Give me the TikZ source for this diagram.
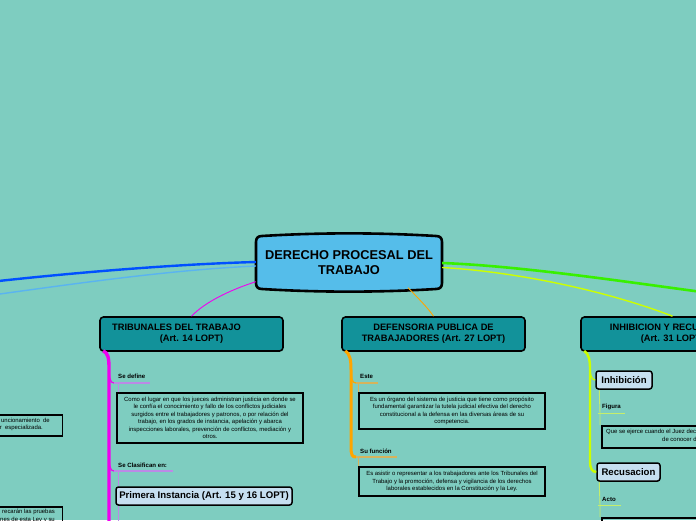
\documentclass[tikz,border=0pt]{standalone}
\usepackage{fontspec}
\setmainfont{Liberation Sans}
\usetikzlibrary{calc}
\definecolor{bgc}{HTML}{7ECDC0}
\definecolor{rootblue}{HTML}{55BDEA}
\definecolor{boxteal}{HTML}{12929A}
\definecolor{subblue}{HTML}{C6DFF0}
\definecolor{cmag}{HTML}{F000F0}
\definecolor{clav}{HTML}{BC8AE6}
\definecolor{corange}{HTML}{FFA500}
\definecolor{ctan}{HTML}{D6B35C}
\definecolor{clime}{HTML}{CCFF00}
\definecolor{climel}{HTML}{C6EE6A}
\definecolor{cgreen}{HTML}{38F000}
\definecolor{cblue}{HTML}{0050FF}
\definecolor{clblue}{HTML}{5AB4F0}
\begin{document}
\begin{tikzpicture}[x=1pt,y=-1pt,
  mainbox/.style={draw=black, line width=1.6pt, fill=boxteal, rounded corners=3.5pt,
    minimum width=183pt, minimum height=34pt, inner sep=0pt, align=center,
    font=\bfseries\fontsize{9.3}{11}\selectfont},
  textbox/.style={draw=black, line width=1.5pt, inner sep=0pt, align=center,
    font=\fontsize{5.95}{7.5}\selectfont},
  subbox/.style={draw=black, line width=1.5pt, fill=subblue, rounded corners=2.5pt,
    inner sep=0pt, font=\bfseries\fontsize{9.6}{11}\selectfont},
  lbl/.style={anchor=west, inner sep=0pt, font=\bfseries\fontsize{6.1}{7}\selectfont},
  frag/.style={inner sep=0pt, font=\fontsize{5.95}{7.5}\selectfont}
]
\useasboundingbox (0,0) rectangle (696,520);
\fill[bgc] (0,0) rectangle (696,520);
\clip (0,0) rectangle (696,520);

% ---------- root
\draw[line width=2.6pt, fill=rootblue]
  (256,242) -- (256,283) .. controls (256,287) and (258,289) .. (262,289)
  .. controls (320,292.5) and (378,292.5) .. (436,289)
  .. controls (440,289) and (442,287) .. (442,283) -- (442,242)
  .. controls (442,238) and (440,236) .. (436,236)
  .. controls (378,232.5) and (320,232.5) .. (262,236)
  .. controls (258,236) and (256,238) .. (256,242) -- cycle;
\node[align=center, inner sep=0pt, minimum width=186pt, minimum height=53pt,
  font=\bfseries\fontsize{12.8}{14.5}\selectfont] (root) at (349,262.5)
  {DERECHO PROCESAL DEL\\TRABAJO};

% ---------- main boxes
\node[mainbox] (trib) at (191.5,334) {TRIBUNALES DEL TRABAJO\hspace*{30pt}\\(Art. 14 LOPT)};
\node[mainbox] (def) at (433.5,334) {DEFENSORIA PUBLICA DE\\TRABAJADORES (Art. 27 LOPT)};
\node[mainbox] (inh) at (672.5,334) {INHIBICION Y RECUSACION\\(Art. 31 LOPT)};

% ---------- free ends
\coordinate (gE) at (702,292);
\coordinate (bE) at (-6,281.5);
\coordinate (lbE) at (-6,294.8);

% ---------- root connectors
\draw[cblue, line width=2.4pt] ($(root.west)+(0,-0.5)$) .. controls (180,264) and (80,272) .. (bE);
\draw[clblue, line width=1.4pt] ($(root.west)+(0,3.5)$) .. controls (170,270) and (80,283) .. (lbE);
\draw[cgreen, line width=2.6pt] ($(root.east)+(0,0.5)$) .. controls (520,266) and (620,281) .. (gE);
\draw[clime, line width=1.4pt] ($(root.east)+(0,5)$) .. controls (520,272) and (610,292) .. (inh.north);
\draw[cmag, line width=0.9pt] ($(root.south west)+(0,-7.5)$) .. controls (230,290) and (205,302) .. (trib.north);
\draw[corange, line width=0.9pt] ($(root.south)+(59,-1.5)$) .. controls (418,298) and (428,308) .. (def.north);

% ---------- TRIBUNALES branch
\coordinate (mEnd) at (109,526);
\draw[cmag, line width=3.4pt] ($(trib.south west)+(4,-1)$) .. controls (108,353) and (109,358) .. (109,368) -- (mEnd);
\coordinate (u1) at (114,383);
\coordinate (u2) at (114,471);
\draw[cmag, line width=1.2pt] (109,364) .. controls (109,378) and (110,383) .. (u1);
\draw[cmag, line width=1.2pt] (109,452) .. controls (109,466) and (110,471) .. (u2);
\draw[clav, line width=1.1pt] (u1) -- ++(36,0);
\draw[clav, line width=1.1pt] (u2) -- ++(59,0);
\node[lbl] (l1) at (118,376) {Se define};
\node[lbl] (l2) at (118,465) {Se Clasifican en:};

\node[textbox, minimum width=186pt, minimum height=50pt] (tb1) at (210,418)
  {Como el lugar en que los jueces administran justicia en donde se\\
   le confía el conocimiento y fallo de los conflictos judiciales\\
   surgidos entre el trabajadores y patronos, o por relación del\\
   trabajo, en los grados de instancia, apelación y abarca\\
   inspecciones laborales, prevención de conflictos, mediación y\\
   otros.};
\node[subbox, minimum width=176pt, minimum height=18pt] (prim) at (204,496)
  {Primera Instancia (Art. 15 y 16 LOPT)};
\coordinate (d1) at (118,383);
\coordinate (d2) at (118,471);
\coordinate (d3) at (118,526);
\draw[clav, line width=0.9pt] (d1) -- (d1 |- tb1.north);
\draw[clav, line width=0.9pt] (d2) -- (d2 |- prim.north);
\draw[clav, line width=0.9pt] (d2 |- prim.south) -- (d3);

% ---------- DEFENSORIA branch
\coordinate (o1) at (356,383);
\coordinate (o2) at (356,457);
\draw[corange, line width=3pt] ($(def.south west)+(4,-1)$) .. controls (350,354) and (351,360) .. (351,370) -- (351,446)
  .. controls (351,455) and (352,457) .. (o2);
\draw[corange, line width=1.2pt] (351,366) .. controls (351,379) and (352,383) .. (o1);
\draw[ctan, line width=1.1pt] (o1) -- ++(22,0);
\draw[ctan, line width=1.1pt] (o2) -- ++(41,0);
\node[lbl] (l3) at (360,376) {Este};
\node[lbl] (l4) at (360,451) {Su función};
\node[textbox, minimum width=186pt, minimum height=36pt] (tb2) at (452,411)
  {Es un órgano del sistema de justicia que tiene como propósito\\
   fundamental garantizar la tutela judicial efectiva del derecho\\
   constitucional a la defensa en las diversas áreas de su\\
   competencia.};
\node[textbox, minimum width=186pt, minimum height=29pt] (tb3) at (452,481.5)
  {Es asistir o representar a los trabajadores ante los Tribunales del\\
   Trabajo y la promoción, defensa y vigilancia de los derechos\\
   laborales establecidos en la Constitución y la Ley.};
\coordinate (e1) at (358,383);
\coordinate (e2) at (358,457);
\draw[ctan, line width=0.8pt] (e1) -- (e1 |- tb2.north);
\draw[ctan, line width=0.8pt] (e2) -- (e2 |- tb3.north);

% ---------- INHIBICION branch
\node[subbox, minimum width=56pt, minimum height=18pt] (inhi) at (624,380) {Inhibición};
\node[subbox, minimum width=63pt, minimum height=18pt] (recu) at (628.5,472) {Recusacion};
\draw[clime, line width=2.4pt] ($(inh.south west)+(4,-1)$) .. controls (589,354) and (590,360) .. (590,370) -- (590,462)
  .. controls (590,468) and (592,472) .. (recu.west);
\draw[clime, line width=1.2pt] (590,366) .. controls (590,376) and (592,380) .. (inhi.west);
\node[lbl] (l5) at (602,407) {Figura};
\node[lbl] (l6) at (602,499) {Acto};
\coordinate (f1) at (598,413.5);
\coordinate (f2) at (598,505.5);
\draw[climel, line width=1.1pt] (f1) -- ++(27,0);
\draw[climel, line width=1.1pt] (f2) -- ++(23,0);
\node[textbox, minimum width=186pt, minimum height=22pt, anchor=north west] (tb4) at (601,425) {};
\node[frag, anchor=west] (tf1) at (606,432) {Que se ejerce cuando el Juez dec};
\node[frag, anchor=west] (tf2) at (662,439.5) {de conocer d};
\node[textbox, minimum width=186pt, minimum height=30pt, anchor=north west] (tb5) at (601,517) {};
\coordinate (g1) at (600,413.5);
\coordinate (g2) at (600,505.5);
\draw[climel, line width=0.9pt] ($(inhi.south west)+(4,0)$) -- (g1) -- (g1 |- tb4.north);
\draw[climel, line width=0.9pt] ($(recu.south west)+(3,0)$) -- (g2) -- (g2 |- tb5.north);

% ---------- left cut-off boxes
\node[textbox, minimum width=186pt, minimum height=21pt, anchor=north east] (lb1) at (63,414) {};
\node[frag, anchor=east, align=right] (lf1) at (50,424.5) {uncionamiento~~de\\r~~especializada.\hspace*{7pt}};
\node[textbox, minimum width=186pt, minimum height=30pt, anchor=north east] (lb2) at (63,506) {};
\node[frag, anchor=north east, align=right] (lf2) at (55,509) {recarán las pruebas\\isiciones de esta Ley y su};
\end{tikzpicture}
\end{document}
